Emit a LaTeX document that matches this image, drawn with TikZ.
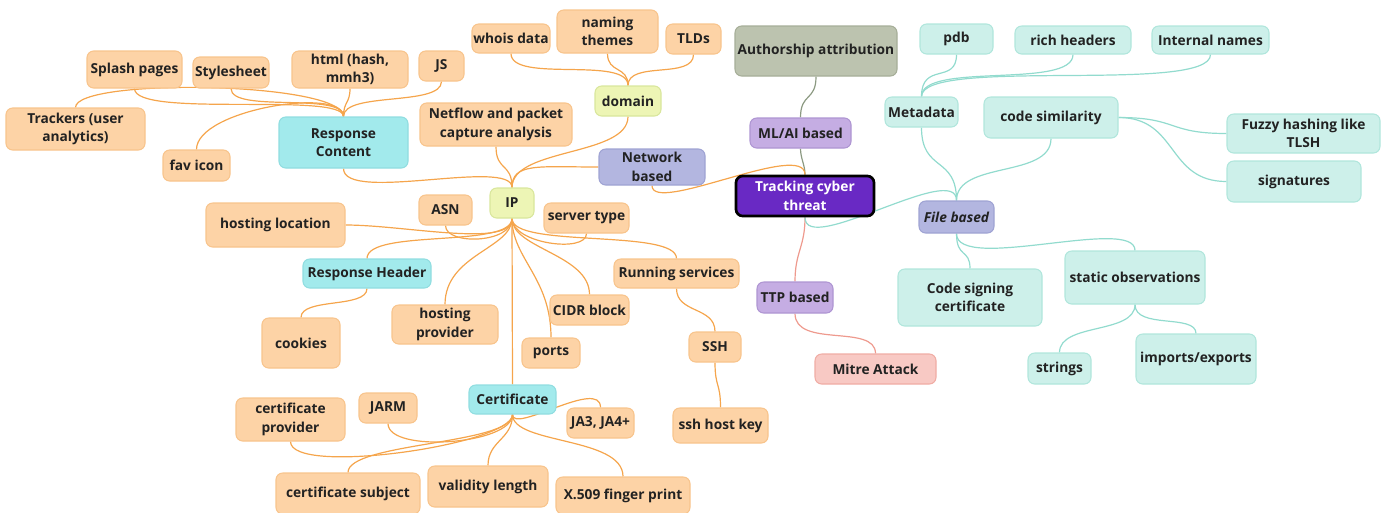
\documentclass[tikz,border=0pt]{standalone}
\usepackage{fontspec}
\setmainfont{Open Sans}
\usetikzlibrary{backgrounds}
\definecolor{txt}{HTML}{222222}
\definecolor{ofill}{HTML}{FDD3A6}
\definecolor{obord}{HTML}{F8C48C}
\definecolor{oline}{HTML}{F5A54C}
\definecolor{cfill}{HTML}{A2EAEC}
\definecolor{cbord}{HTML}{90DDE0}
\definecolor{yfill}{HTML}{EDF5B5}
\definecolor{ybord}{HTML}{D9E69C}
\definecolor{tfill}{HTML}{CDF0EA}
\definecolor{tbord}{HTML}{B0E6DC}
\definecolor{tline}{HTML}{92DBCE}
\definecolor{cenfill}{HTML}{6929C4}
\definecolor{pfill}{HTML}{C5ADE3}
\definecolor{pbord}{HTML}{AE95D2}
\definecolor{nfill}{HTML}{B3B6E0}
\definecolor{nbord}{HTML}{9FA3D3}
\definecolor{gfill}{HTML}{BCC3AF}
\definecolor{gbord}{HTML}{A6AE98}
\definecolor{gline}{HTML}{8C9A82}
\definecolor{mfill}{HTML}{F8C9C4}
\definecolor{mbord}{HTML}{F0ACA4}
\definecolor{mline}{HTML}{EE9A8E}
\newcommand\bx[7]{%
  \pgfmathsetmacro\bxw{(#5-#3)*0.75}%
  \pgfmathsetmacro\bxh{(#6-#4)*0.75}%
  \node[#1, minimum width=\bxw pt, minimum height=\bxh pt] (#2) at ({(#3+#5)/2},{(#4+#6)/2}) {#7};}
\tikzset{
  base/.style={rectangle, rounded corners=5pt, draw, line width=0.8pt, inner sep=0.5pt,
    align=center, text=txt, font=\bfseries\fontsize{10.3}{14}\selectfont},
  ob/.style={base, fill=ofill, draw=obord},
  cb/.style={base, fill=cfill, draw=cbord},
  yb/.style={base, fill=yfill, draw=ybord},
  tb/.style={base, fill=tfill, draw=tbord},
  pb/.style={base, fill=pfill, draw=pbord},
  nb/.style={base, fill=nfill, draw=nbord},
  gb/.style={base, fill=gfill, draw=gbord},
  mb/.style={base, fill=mfill, draw=mbord},
  cen/.style={base, fill=cenfill, draw=black, line width=2pt, text=white},
  oe/.style={draw=oline, line width=0.9pt},
  te/.style={draw=tline, line width=0.9pt},
  ge/.style={draw=gline, line width=0.9pt},
  me/.style={draw=mline, line width=0.9pt},
}
\begin{document}
\begin{tikzpicture}[x=0.75pt,y=-0.75pt]
\useasboundingbox (0,0) rectangle (1383,512);
% centre and branches
\bx{cen}{tct}{736}{176}{874}{216}{Tracking cyber\\threat}
\bx{pb}{ml}{750}{118}{851}{148}{ML/AI based}
\bx{gb}{auth}{735}{26}{897}{76}{Authorship attribution}
\bx{nb}{net}{599}{149}{705}{185}{Network\\based}
\bx{pb}{ttp}{757}{282}{833}{313}{TTP based}
\bx{mb}{mitre}{815}{354}{936}{384}{Mitre Attack}
\bx{nb}{file}{919}{201}{994}{233}{\itshape File based}
% file branch
\bx{tb}{pdb}{920}{24}{993}{54}{pdb}
\bx{tb}{rich}{1015}{26}{1131}{54}{rich headers}
\bx{tb}{internal}{1152}{26}{1269}{54}{Internal names}
\bx{tb}{meta}{885}{97}{958}{127}{Metadata}
\bx{tb}{codesim}{984}{97}{1118}{138}{code similarity}
\bx{tb}{fuzzy}{1227}{114}{1380}{153}{Fuzzy hashing like\\TLSH}
\bx{tb}{sig}{1227}{161}{1361}{202}{signatures}
\bx{tb}{codesign}{898}{269}{1042}{326}{Code signing\\certificate}
\bx{tb}{static}{1065}{251}{1205}{304}{static observations}
\bx{tb}{strings}{1028}{353}{1091}{384}{strings}
\bx{tb}{imports}{1136}{334}{1256}{384}{imports/exports}
% network branch
\bx{ob}{splash}{87}{51}{182}{88}{Splash pages}
\bx{ob}{stylesheet}{193}{57}{269}{88}{Stylesheet}
\bx{ob}{html}{292}{51}{408}{88}{html (hash,\\mmh3)}
\bx{ob}{js}{419}{51}{464}{81}{JS}
\bx{ob}{trackers}{6}{108}{145}{150}{Trackers (user\\analytics)}
\bx{ob}{fav}{163}{150}{230}{181}{fav icon}
\bx{cb}{rc}{279}{117}{408}{168}{Response\\Content}
\bx{ob}{whois}{472}{24}{550}{53}{whois data}
\bx{ob}{naming}{557}{10}{658}{53}{naming\\themes}
\bx{ob}{tld}{666}{24}{721}{54}{TLDs}
\bx{yb}{domain}{595}{86}{661}{116}{domain}
\bx{ob}{netflow}{420}{103}{572}{146}{Netflow and packet\\capture analysis}
\bx{yb}{ip}{490}{188}{534}{218}{IP}
\bx{ob}{asn}{419}{195}{472}{225}{ASN}
\bx{ob}{server}{544}{203}{629}{233}{server type}
\bx{ob}{hloc}{206}{203}{345}{247}{hosting location}
\bx{cb}{rh}{303}{259}{431}{288}{Response Header}
\bx{ob}{rs}{614}{259}{739}{288}{Running services}
\bx{ob}{hprov}{392}{305}{498}{344}{hosting\\provider}
\bx{ob}{cidr}{550}{295}{629}{325}{CIDR block}
\bx{ob}{cookies}{262}{318}{340}{368}{cookies}
\bx{ob}{ports}{522}{338}{580}{368}{ports}
\bx{ob}{ssh}{689}{332}{741}{362}{SSH}
\bx{cb}{cert}{469}{385}{556}{414}{Certificate}
\bx{ob}{jarm}{359}{393}{417}{423}{JARM}
\bx{ob}{cprov}{236}{398}{345}{441}{certificate\\provider}
\bx{ob}{ja3}{567}{408}{634}{438}{JA3, JA4+}
\bx{ob}{sshkey}{673}{408}{768}{443}{ssh host key}
\bx{ob}{csubj}{276}{473}{420}{514}{certificate subject}
\bx{ob}{valid}{428}{466}{548}{507}{validity length}
\bx{ob}{x509}{556}{477}{690}{514}{X.509 finger print}
\begin{scope}[on background layer]
% centre
\draw[ge] (tct.north) .. controls +(0,-10) and +(0,10) .. (ml.south);
\draw[ge] (ml.north) .. controls +(0,-25) and +(0,25) .. (auth.south);
\draw[oe] (tct.north) .. controls +(0,-35) and +(0,30) .. (net.south);
\draw[me] (tct.south) .. controls +(0,30) and +(0,-30) .. (ttp.north);
\draw[me] (ttp.south) .. controls +(0,35) and +(0,-30) .. (mitre.north);
\draw[te] (tct.south) .. controls +(0,40) and +(0,-40) .. (file.north);
% file
\draw[te] (file.north) .. controls +(0,-45) and +(0,45) .. (meta.south);
\draw[te] (file.north) .. controls +(0,-40) and +(0,40) .. (codesim.south);
\draw[te] (meta.north) .. controls +(0,-35) and +(0,30) .. (pdb.south);
\draw[te] (meta.north) .. controls +(0,-35) and +(0,35) .. (rich.south);
\draw[te] (meta.north) .. controls +(0,-40) and +(0,40) .. (internal.south);
\draw[te] (codesim.east) .. controls +(60,0) and +(-60,0) .. (fuzzy.west);
\draw[te] (codesim.east) .. controls +(60,0) and +(-60,0) .. (sig.west);
\draw[te] (file.south) .. controls +(0,25) and +(0,-20) .. (codesign.north);
\draw[te] (file.south) .. controls +(0,40) and +(0,-35) .. (static.north);
\draw[te] (static.south) .. controls +(0,30) and +(0,-30) .. (strings.north);
\draw[te] (static.south) .. controls +(0,25) and +(0,-20) .. (imports.north);
% network
\draw[oe] (net.west) .. controls +(-60,0) and +(0,-25) .. (ip.north);
\draw[oe] (ip.north) .. controls +(0,-40) and +(0,40) .. (domain.south);
\draw[oe] (ip.north) .. controls +(0,-25) and +(0,25) .. (netflow.south);
\draw[oe] (ip.north) .. controls +(0,-30) and +(0,35) .. (rc.south);
\draw[oe] (domain.north) .. controls +(0,-30) and +(0,30) .. (whois.south);
\draw[oe] (domain.north) .. controls +(0,-20) and +(0,20) .. (naming.south);
\draw[oe] (domain.north) .. controls +(0,-25) and +(0,25) .. (tld.south);
\draw[oe] (rc.north) .. controls +(0,-25) and +(0,30) .. (splash.south);
\draw[oe] (rc.north) .. controls +(0,-25) and +(0,25) .. (stylesheet.south);
\draw[oe] (rc.north) .. controls +(0,-15) and +(0,15) .. (html.south);
\draw[oe] (rc.north) .. controls +(0,-25) and +(0,25) .. (js.south);
\draw[oe] (rc.north) .. controls +(0,-35) and +(0,-30) .. (trackers.north);
\draw[oe] (rc.north) .. controls +(0,-30) and +(0,-40) .. (fav.north);
\draw[oe] (ip.south) .. controls +(0,25) and +(0,20) .. (asn.south);
\draw[oe] (ip.south) .. controls +(0,25) and +(0,20) .. (server.south);
\draw[oe] (ip.south) .. controls +(0,30) and +(60,0) .. (hloc.east);
\draw[oe] (ip.south) .. controls +(0,30) and +(0,-30) .. (rh.north);
\draw[oe] (ip.south) .. controls +(0,30) and +(0,-30) .. (rs.north);
\draw[oe] (ip.south) .. controls +(0,30) and +(0,-50) .. (hprov.north);
\draw[oe] (ip.south) .. controls +(0,30) and +(0,-40) .. (cidr.north);
\draw[oe] (ip.south) .. controls +(0,40) and +(0,-60) .. (ports.north);
\draw[oe] (ip.south) -- (cert.north);
\draw[oe] (rh.south) .. controls +(0,20) and +(0,-20) .. (cookies.north);
\draw[oe] (rs.south) .. controls +(0,25) and +(0,-25) .. (ssh.north);
\draw[oe] (ssh.south) .. controls +(0,25) and +(0,-25) .. (sshkey.north);
\draw[oe] (cert.south) .. controls +(0,30) and +(0,30) .. (jarm.south);
\draw[oe] (cert.south) .. controls +(0,30) and +(0,35) .. (cprov.south);
\draw[oe] (cert.south) .. controls +(0,30) and +(0,-30) .. (csubj.north);
\draw[oe] (cert.south) .. controls +(0,25) and +(0,-25) .. (valid.north);
\draw[oe] (cert.south) .. controls +(0,30) and +(0,-40) .. (x509.north);
\draw[oe] (cert.south) .. controls +(0,20) and +(0,-30) .. (ja3.north);
\end{scope}
\end{tikzpicture}
\end{document}
